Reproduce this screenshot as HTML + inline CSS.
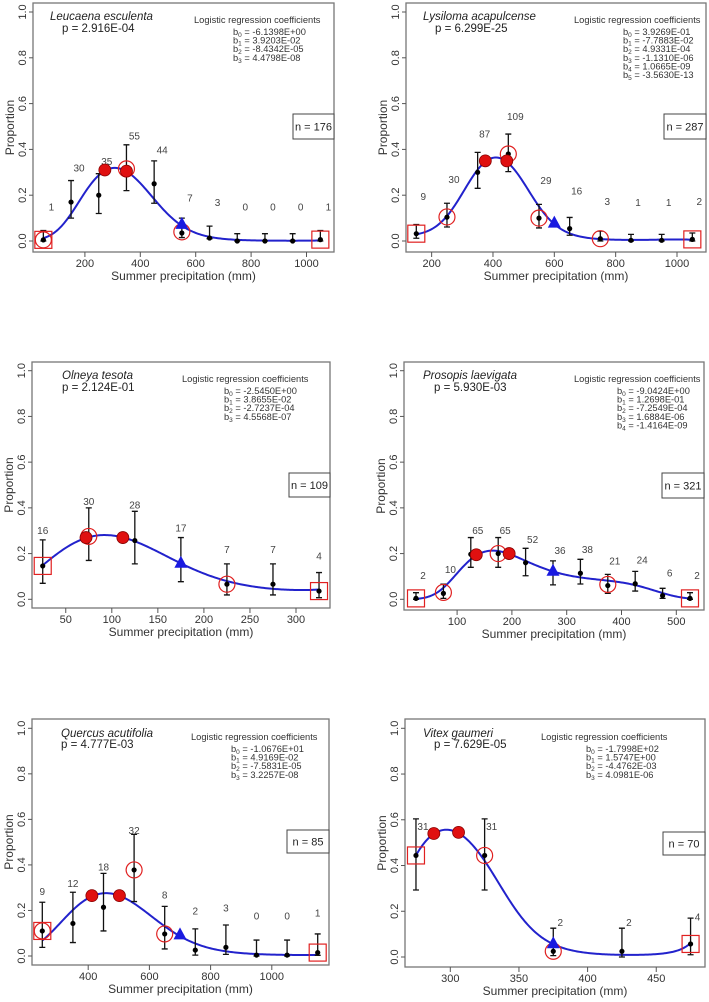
<!DOCTYPE html>
<html><head><meta charset="utf-8">
<style>
html,body{margin:0;padding:0;background:#fff;}
svg{display:block;font-family:"Liberation Sans",Arial,sans-serif;}
</style></head>
<body>
<svg id="fig" width="709" height="1002" viewBox="0 0 709 1002" xmlns="http://www.w3.org/2000/svg"></svg>
<script>
// ---------- DATA ----------
// Panel 1: Leucaena esculenta
const p1X = [50,150,250,350,450,550,650,750,850,950,1050];
const p1Mean = [0.005,0.17,0.2,0.31,0.25,0.035,0.013,0.0,0.0,0.0,0.006];
const p1Hi = [0.046,0.264,0.294,0.42,0.35,0.10,0.065,0.032,0.032,0.032,0.046];
const p1Lo = [0.0,0.10,0.12,0.22,0.165,0.015,0.01,0.0,0.0,0.0,0.0];
const p1N = ["1","30","35","55","44","7","3","0","0","0","1"];
const p1LabelP = [0.15,0.32,0.35,0.46,0.40,0.19,0.17,0.15,0.15,0.15,0.15];
const p1Coef = [-6.1398,3.9203e-2,-8.4342e-5,4.4798e-8];
const p1CoefText = ["-6.1398E+00","3.9203E-02","-8.4342E-05","4.4798E-08"];
const p1Filled = [[272,0.31],[350,0.305]];
const p1Open = [[50,0.005],[350,0.315],[550,0.04]];
const p1Square = [[50,0.005],[1050,0.006]];
const p1Tri = [[550,0.075]];
const p1Ticks = [200,400,600,800,1000];

// Panel 2: Lysiloma acapulcense
const p2X = [150,250,350,450,550,650,750,850,950,1050];
const p2Mean = [0.032,0.104,0.30,0.38,0.10,0.054,0.01,0.003,0.003,0.007];
const p2Hi = [0.072,0.165,0.387,0.467,0.16,0.103,0.043,0.029,0.029,0.035];
const p2Lo = [0.012,0.061,0.23,0.303,0.057,0.025,0.0,0.0,0.0,0.0];
const p2N = ["9","30","87","109","29","16","3","1","1","2"];
const p2LabelP = [0.196,0.27,0.47,0.546,0.267,0.22,0.175,0.17,0.17,0.175];
const p2Coef = [0.39269,-7.7883e-2,4.9331e-4,-1.1310e-6,1.0665e-9,-3.5630e-13];
const p2CoefText = ["3.9269E-01","-7.7883E-02","4.9331E-04","-1.1310E-06","1.0665E-09","-3.5630E-13"];
const p2Filled = [[375,0.35],[445,0.35]];
const p2Open = [[250,0.105],[450,0.38],[550,0.10],[750,0.01]];
const p2Square = [[150,0.032],[1050,0.007]];
const p2Tri = [[600,0.08]];
const p2Ticks = [200,400,600,800,1000];

// Panel 3: Olneya tesota
const p3X = [25,75,125,175,225,275,325];
const p3Mean = [0.146,0.27,0.257,0.16,0.066,0.066,0.036];
const p3Hi = [0.26,0.40,0.385,0.27,0.155,0.155,0.117];
const p3Lo = [0.07,0.17,0.155,0.077,0.019,0.019,0.007];
const p3N = ["16","30","28","17","7","7","4"];
const p3LabelP = [0.303,0.43,0.414,0.313,0.22,0.22,0.192];
const p3Coef = [-2.5450,3.8655e-2,-2.7237e-4,4.5568e-7];
const p3CoefText = ["-2.5450E+00","3.8655E-02","-2.7237E-04","4.5568E-07"];
const p3Filled = [[72,0.27],[112,0.27]];
const p3Open = [[75,0.275],[225,0.066]];
const p3Square = [[25,0.146],[325,0.036]];
const p3Tri = [[175,0.16]];
const p3Ticks = [50,100,150,200,250,300];

// Panel 4: Prosopis laevigata
const p4X = [25,75,125,175,225,275,325,375,425,475,525];
const p4Mean = [0.004,0.026,0.197,0.2,0.16,0.118,0.114,0.06,0.068,0.016,0.004];
const p4Hi = [0.029,0.066,0.27,0.27,0.223,0.168,0.175,0.109,0.122,0.048,0.029];
const p4Lo = [0.0,0.004,0.14,0.14,0.103,0.063,0.067,0.026,0.036,0.004,0.0];
const p4N = ["2","10","65","65","52","36","38","21","24","6","2"];
const p4LabelP = [0.106,0.133,0.303,0.303,0.264,0.216,0.22,0.17,0.175,0.118,0.106];
const p4Coef = [-9.0424,0.12698,-7.2549e-4,1.6884e-6,-1.4164e-9];
const p4CoefText = ["-9.0424E+00","1.2698E-01","-7.2549E-04","1.6884E-06","-1.4164E-09"];
const p4Filled = [[135,0.195],[195,0.2]];
const p4Open = [[75,0.03],[175,0.2],[375,0.065]];
const p4Square = [[25,0.004],[525,0.004]];
const p4Tri = [[275,0.125]];
const p4Ticks = [100,200,300,400,500];

// Panel 5: Quercus acutifolia
const p5X = [250,350,450,550,650,750,850,950,1050,1150];
const p5Mean = [0.11,0.143,0.214,0.378,0.097,0.026,0.038,0.004,0.004,0.015];
const p5Hi = [0.236,0.28,0.363,0.534,0.218,0.119,0.136,0.07,0.07,0.097];
const p5Lo = [0.038,0.059,0.11,0.239,0.031,0.004,0.007,0.0,0.0,0.003];
const p5N = ["9","12","18","32","8","2","3","0","0","1"];
const p5LabelP = [0.285,0.32,0.392,0.553,0.27,0.2,0.214,0.177,0.177,0.19];
const p5Coef = [-10.676,4.9169e-2,-7.5831e-5,3.2257e-8];
const p5CoefText = ["-1.0676E+01","4.9169E-02","-7.5831E-05","3.2257E-08"];
const p5Filled = [[412,0.265],[502,0.265]];
const p5Open = [[250,0.11],[550,0.378],[650,0.097]];
const p5Square = [[250,0.11],[1150,0.015]];
const p5Tri = [[700,0.095]];
const p5Ticks = [400,600,800,1000];

// Panel 6: Vitex gaumeri
const p6X = [275,325,375,425,475];
const p6Mean = [0.444,0.444,0.025,0.025,0.057];
const p6Hi = [0.604,0.604,0.126,0.126,0.17];
const p6Lo = [0.293,0.293,0.006,0.0,0.01];
const p6N = ["31","31","2","2","4"];
const p6LabelP = [0.572,0.572,0.152,0.152,0.178];
const p6Coef = [-179.98,1.5747,-4.4762e-3,4.0981e-6];
const p6CoefText = ["-1.7998E+02","1.5747E+00","-4.4762E-03","4.0981E-06"];
const p6Filled = [[288,0.54],[306,0.545]];
const p6Open = [[325,0.444],[375,0.025]];
const p6Square = [[275,0.444],[475,0.057]];
const p6Tri = [[375,0.06]];
const p6Ticks = [300,350,400,450];

const yTicks = [0,0.2,0.4,0.6,0.8,1.0];
const yTickText = ["0.0","0.2","0.4","0.6","0.8","1.0"];

// ---------- LAYOUT ----------
const panels = [
 {id:1,name:"Leucaena esculenta",pval:"p = 2.916E-04",n:"n = 176",X:p1X,M:p1Mean,H:p1Hi,L:p1Lo,N:p1N,LP:p1LabelP,C:p1Coef,CT:p1CoefText,F:p1Filled,O:p1Open,S:p1Square,T:p1Tri,ticks:p1Ticks,
  box:[33,3,334,252],x0:29.5,xs:0.277,y0:241,y1:12,lblDx:8,sp:[50,20],pv:[62,32],ct:[194,23],cb:[233,35],nb:[293,114,334,139]},
 {id:2,name:"Lysiloma acapulcense",pval:"p = 6.299E-25",n:"n = 287",X:p2X,M:p2Mean,H:p2Hi,L:p2Lo,N:p2N,LP:p2LabelP,C:p2Coef,CT:p2CoefText,F:p2Filled,O:p2Open,S:p2Square,T:p2Tri,ticks:p2Ticks,
  box:[406,3,706,252],x0:370.3,xs:0.3067,y0:241,y1:12,lblDx:7,sp:[423,20],pv:[435,32],ct:[574,23],cb:[623,35],nb:[664,114,706,139]},
 {id:3,name:"Olneya tesota",pval:"p = 2.124E-01",n:"n = 109",X:p3X,M:p3Mean,H:p3Hi,L:p3Lo,N:p3N,LP:p3LabelP,C:p3Coef,CT:p3CoefText,F:p3Filled,O:p3Open,S:p3Square,T:p3Tri,ticks:p3Ticks,
  box:[32,362,330,608],x0:19.7,xs:0.921,y0:599.3,y1:370.7,lblDx:0,sp:[62,379],pv:[62,391],ct:[182,382],cb:[224,394],nb:[289,473,330,497]},
 {id:4,name:"Prosopis laevigata",pval:"p = 5.930E-03",n:"n = 321",X:p4X,M:p4Mean,H:p4Hi,L:p4Lo,N:p4N,LP:p4LabelP,C:p4Coef,CT:p4CoefText,F:p4Filled,O:p4Open,S:p4Square,T:p4Tri,ticks:p4Ticks,
  box:[404,362,704,610],x0:402.3,xs:0.548,y0:599.3,y1:370.7,lblDx:7,sp:[423,379],pv:[434,391],ct:[574,382],cb:[617,394],nb:[662,473,704,498]},
 {id:5,name:"Quercus acutifolia",pval:"p = 4.777E-03",n:"n = 85",X:p5X,M:p5Mean,H:p5Hi,L:p5Lo,N:p5N,LP:p5LabelP,C:p5Coef,CT:p5CoefText,F:p5Filled,O:p5Open,S:p5Square,T:p5Tri,ticks:p5Ticks,
  box:[32,719,329,965],x0:-34.2,xs:0.306,y0:956,y1:728.3,lblDx:0,sp:[61,737],pv:[61,748],ct:[191,740],cb:[231,752],nb:[287,830,329,853]},
 {id:6,name:"Vitex gaumeri",pval:"p = 7.629E-05",n:"n = 70",X:p6X,M:p6Mean,H:p6Hi,L:p6Lo,N:p6N,LP:p6LabelP,C:p6Coef,CT:p6CoefText,F:p6Filled,O:p6Open,S:p6Square,T:p6Tri,ticks:p6Ticks,
  box:[405,719,705,967],x0:38.4,xs:1.373,y0:957,y1:728.3,lblDx:7,sp:[423,737],pv:[434,748],ct:[541,740],cb:[586,752],nb:[663,832,705,855]}
];

const NS="http://www.w3.org/2000/svg";
const svg=document.getElementById('fig');
function mk(tag,attrs,parent,text){
  const e=document.createElementNS(NS,tag);
  for(const k in attrs) e.setAttribute(k,attrs[k]);
  if(text!==undefined) e.textContent=text;
  parent.appendChild(e); return e;
}

panels.forEach(P=>{
  const g=mk('g',{},svg);
  
  
  const sx=x=>P.x0+P.xs*x;
  const sy=p=>P.y0-(P.y0-P.y1)*p;
  const [bx0,by0,bx1,by1]=P.box;
  const frame=mk('rect',{x:bx0,y:by0,width:bx1-bx0,height:by1-by0,fill:'none',stroke:'#777','stroke-width':1.3},g);
  
  
  // y ticks
  yTicks.forEach((t,i)=>{
    const y=sy(t);
    const tk=mk('line',{x1:bx0-4,x2:bx0,y1:y,y2:y,stroke:'#555','stroke-width':1},g);
    
    
    const tl=mk('text',{x:0,y:0,transform:`translate(${bx0-7},${y}) rotate(-90)`,'text-anchor':'middle','font-size':11,fill:'#333'},g,yTickText[i]);
    
    
  });
  // x ticks
  P.ticks.forEach(t=>{
    const x=sx(t);
    const tk=mk('line',{x1:x,x2:x,y1:by1,y2:by1+5,stroke:'#555','stroke-width':1},g);
    
    
    const tl=mk('text',{x:x,y:by1+15,'text-anchor':'middle','font-size':11,fill:'#333'},g,String(t));
    
    
  });
  const xt=mk('text',{x:(bx0+bx1)/2,y:by1+28,'text-anchor':'middle','font-size':12,fill:'#333'},g,'Summer precipitation (mm)');
  
  
  const ytl=mk('text',{x:0,y:0,transform:`translate(${bx0-19},${(by0+by1)/2}) rotate(-90)`,'text-anchor':'middle','font-size':12,fill:'#333'},g,'Proportion');
  
  
  // header text
  const sp=mk('text',{x:P.sp[0],y:P.sp[1],'font-size':11.5,'font-style':'italic',fill:'#222'},g,P.name);
  
  
  const pv=mk('text',{x:P.pv[0],y:P.pv[1],'font-size':11.5,fill:'#222'},g,P.pval);
  
  
  const ct=mk('text',{x:P.ct[0],y:P.ct[1],'font-size':9.3,fill:'#333'},g,'Logistic regression coefficients');
  
  
  P.CT.forEach((s,i)=>{
    const t=mk('text',{x:P.cb[0],y:P.cb[1]+i*8.6,'font-size':9.3,fill:'#333'},g);
    
    
    mk('tspan',{},t,'b');
    mk('tspan',{'font-size':6.5,dy:2},t,String(i));
    mk('tspan',{dy:-2},t,' = '+s);
  });
  // n box
  const [nx0,ny0,nx1,ny1]=P.nb;
  const nr=mk('rect',{x:nx0,y:ny0,width:nx1-nx0,height:ny1-ny0,fill:'#fff',stroke:'#444','stroke-width':1},g);
  
  
  const nt=mk('text',{x:(nx0+nx1)/2,y:(ny0+ny1)/2+4,'text-anchor':'middle','font-size':11,fill:'#222'},g,P.n);
  
  
  // curve
  const xa=P.X[0], xb=P.X[P.X.length-1];
  let d='';
  for(let i=0;i<=200;i++){
    const x=xa+(xb-xa)*i/200;
    let z=0; P.C.forEach((c,k)=>{z+=c*Math.pow(x,k);});
    const p=1/(1+Math.exp(-z));
    d+=(i?'L':'M')+sx(x).toFixed(2)+' '+sy(p).toFixed(2);
  }
  const cv=mk('path',{d:d,fill:'none',stroke:'#2222cc','stroke-width':2},g);
  
  
  // error bars + points + counts
  P.X.forEach((x,i)=>{
    const px=sx(x);
    const eb=mk('path',{d:`M${px} ${sy(P.H[i])}V${sy(P.L[i])}M${px-3} ${sy(P.H[i])}H${px+3}M${px-3} ${sy(P.L[i])}H${px+3}`,stroke:'#111','stroke-width':1.3,fill:'none'},g);
    
    
    const pt=mk('circle',{cx:px,cy:sy(P.M[i]),r:2.6,fill:'#000'},g);
    
    
    const cl=mk('text',{x:px+P.lblDx,y:sy(P.LP[i])+4,'text-anchor':'middle','font-size':10,fill:'#444'},g,P.N[i]);
    
    
  });
  P.S.forEach(([x,p])=>{
    const s=mk('rect',{x:sx(x)-8.5,y:sy(p)-8.5,width:17,height:17,fill:'none',stroke:'#e02020','stroke-width':1.2},g);
    
    
  });
  P.O.forEach(([x,p])=>{
    const c=mk('circle',{cx:sx(x),cy:sy(p),r:8,fill:'none',stroke:'#e02020','stroke-width':1.2},g);
    
    
  });
  P.F.forEach(([x,p])=>{
    const c=mk('circle',{cx:sx(x),cy:sy(p),r:6,fill:'#e01010',stroke:'#800','stroke-width':0.8},g);
    
    
  });
  P.T.forEach(([x,p])=>{
    const cx=sx(x), cy=sy(p);
    const t=mk('polygon',{points:`${cx},${cy-7} ${cx-6.5},${cy+5} ${cx+6.5},${cy+5}`,fill:'#1a1ae0'},g);
    
    
  });
});
</script>
</body></html>
